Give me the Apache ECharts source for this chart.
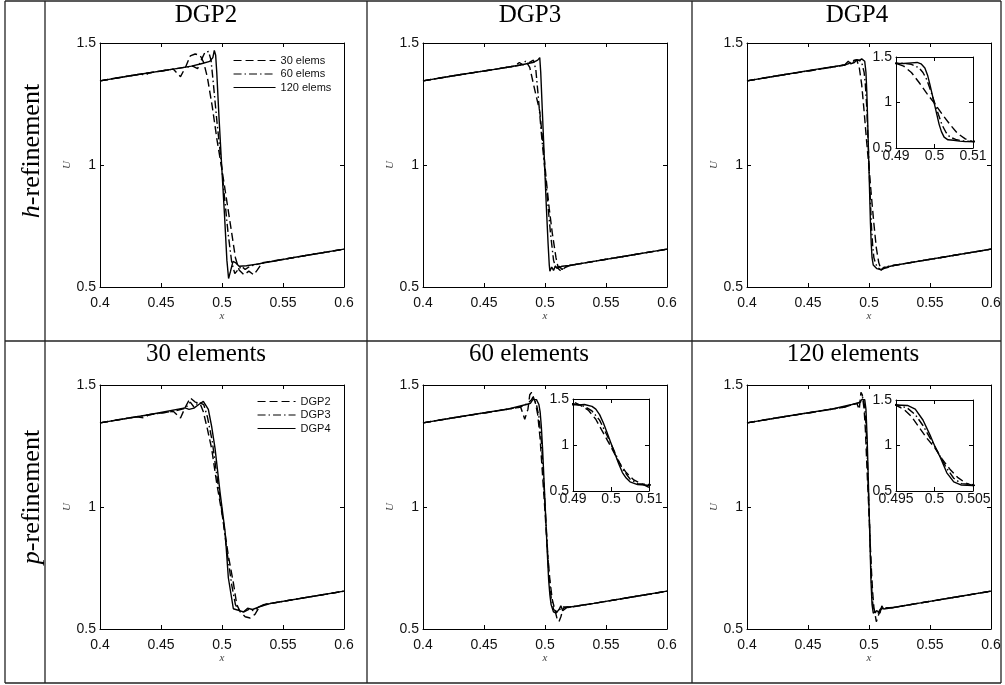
<!DOCTYPE html>
<html>
<head>
<meta charset="utf-8">
<script src="https://cdn.jsdelivr.net/npm/echarts@6/dist/echarts.min.js"></script>
<style>
  html, body { margin: 0; padding: 0; background: #fff; }
  #chart { width: 1005px; height: 685px; }
</style>
</head>
<body>
<div id="chart"></div>
<script>
// tick values
const xTicksMain = [0.4, 0.45, 0.5, 0.55, 0.6]
const yTicks = [0.5, 1, 1.5]
const xTicksInsetA = [0.49, 0.5, 0.51]
const xTicksInsetB = [0.495, 0.5, 0.505]

// texts
const colTitles = ['DGP2', 'DGP3', 'DGP4']
const elemTitles = ['30 elements', '60 elements', '120 elements']
const hLegend = ['30 elems', '60 elems', '120 elems']
const pLegend = ['DGP2', 'DGP3', 'DGP4']

// h-refinement, DGP2 : [x, U]
const h2e30 = [[0.40,1.345],[0.42,1.362],[0.434,1.373],[0.437,1.366],[0.44,1.377],[0.46,1.393],[0.466,1.362],[0.470,1.40],[0.474,1.447],[0.478,1.455],[0.482,1.45],[0.485,1.42],[0.488,1.36],[0.492,1.24],[0.496,1.10],[0.500,0.98],[0.504,0.85],[0.508,0.72],[0.511,0.62],[0.514,0.57],[0.518,0.55],[0.522,0.565],[0.526,0.55],[0.529,0.57],[0.533,0.60],[0.54,0.605],[0.57,0.63],[0.60,0.655]]
const h2e60 = [[0.40,1.345],[0.43,1.37],[0.46,1.393],[0.476,1.405],[0.480,1.395],[0.483,1.43],[0.486,1.462],[0.489,1.465],[0.491,1.43],[0.493,1.33],[0.496,1.17],[0.499,1.03],[0.502,0.87],[0.505,0.72],[0.508,0.60],[0.5105,0.555],[0.513,0.57],[0.516,0.585],[0.519,0.572],[0.523,0.585],[0.53,0.595],[0.56,0.622],[0.60,0.655]]
const h2e120 = [[0.40,1.345],[0.43,1.37],[0.46,1.393],[0.475,1.405],[0.483,1.415],[0.490,1.425],[0.4925,1.44],[0.4937,1.47],[0.4948,1.45],[0.4957,1.38],[0.4975,1.20],[0.4997,1.00],[0.502,0.80],[0.504,0.61],[0.5054,0.535],[0.507,0.565],[0.509,0.605],[0.511,0.60],[0.514,0.585],[0.52,0.587],[0.53,0.595],[0.56,0.622],[0.60,0.655]]

// h-refinement, DGP3
const h3e30 = [[0.40,1.345],[0.43,1.37],[0.46,1.393],[0.475,1.405],[0.479,1.42],[0.482,1.41],[0.485,1.42],[0.4875,1.40],[0.4915,1.31],[0.4957,1.22],[0.4985,1.08],[0.501,0.94],[0.5035,0.82],[0.506,0.72],[0.509,0.62],[0.511,0.575],[0.513,0.565],[0.516,0.578],[0.52,0.588],[0.54,0.605],[0.57,0.63],[0.60,0.655]]
const h3e60 = [[0.40,1.345],[0.43,1.37],[0.46,1.393],[0.48,1.41],[0.484,1.425],[0.487,1.42],[0.4905,1.43],[0.4925,1.39],[0.4945,1.28],[0.497,1.13],[0.4995,1.0],[0.502,0.86],[0.5045,0.72],[0.507,0.61],[0.509,0.575],[0.5115,0.585],[0.514,0.572],[0.517,0.585],[0.52,0.588],[0.54,0.605],[0.57,0.63],[0.60,0.655]]
const h3e120 = [[0.40,1.345],[0.43,1.37],[0.46,1.393],[0.48,1.41],[0.49,1.42],[0.494,1.43],[0.4957,1.44],[0.4965,1.38],[0.498,1.20],[0.4995,1.02],[0.501,0.84],[0.5025,0.68],[0.5035,0.59],[0.504,0.565],[0.5055,0.582],[0.507,0.568],[0.5085,0.586],[0.51,0.576],[0.514,0.585],[0.52,0.588],[0.54,0.605],[0.57,0.63],[0.60,0.655]]

// h-refinement, DGP4
const h4e30 = [[0.40,1.345],[0.43,1.37],[0.46,1.393],[0.48,1.41],[0.485,1.418],[0.488,1.428],[0.49,1.43],[0.492,1.40],[0.494,1.33],[0.496,1.22],[0.498,1.10],[0.5,0.99],[0.502,0.87],[0.504,0.76],[0.506,0.66],[0.508,0.60],[0.51,0.57],[0.512,0.575],[0.515,0.58],[0.52,0.588],[0.54,0.605],[0.57,0.63],[0.60,0.655]]
const h4e60 = [[0.40,1.345],[0.43,1.37],[0.46,1.393],[0.48,1.41],[0.485,1.42],[0.488,1.43],[0.49,1.432],[0.492,1.43],[0.494,1.42],[0.496,1.38],[0.497,1.33],[0.498,1.25],[0.499,1.13],[0.5,1.0],[0.501,0.87],[0.502,0.75],[0.503,0.67],[0.504,0.62],[0.5055,0.595],[0.507,0.58],[0.51,0.57],[0.513,0.582],[0.52,0.588],[0.54,0.605],[0.57,0.63],[0.60,0.655]]
const h4e120 = [[0.40,1.345],[0.43,1.37],[0.46,1.395],[0.48,1.41],[0.483,1.425],[0.485,1.415],[0.488,1.42],[0.49,1.43],[0.492,1.428],[0.494,1.435],[0.4955,1.44],[0.4965,1.425],[0.4975,1.38],[0.4982,1.30],[0.4988,1.20],[0.4994,1.09],[0.5,0.98],[0.5006,0.87],[0.5012,0.76],[0.5018,0.68],[0.5025,0.62],[0.5035,0.59],[0.505,0.585],[0.5065,0.575],[0.508,0.57],[0.51,0.57],[0.512,0.58],[0.515,0.582],[0.52,0.588],[0.54,0.605],[0.57,0.63],[0.60,0.655]]

// p-refinement, 30 elements
const p30d2 = [[0.40,1.345],[0.43,1.37],[0.436,1.365],[0.44,1.378],[0.46,1.392],[0.466,1.365],[0.470,1.41],[0.474,1.447],[0.478,1.43],[0.482,1.425],[0.4847,1.39],[0.488,1.32],[0.4915,1.24],[0.4956,1.10],[0.5011,0.94],[0.5052,0.80],[0.5093,0.69],[0.5121,0.60],[0.515,0.57],[0.519,0.55],[0.523,0.545],[0.527,0.56],[0.530,0.585],[0.534,0.60],[0.54,0.605],[0.57,0.63],[0.60,0.655]]
const p30d3 = [[0.40,1.345],[0.44,1.378],[0.46,1.392],[0.47,1.405],[0.474,1.43],[0.477,1.41],[0.481,1.43],[0.485,1.42],[0.488,1.37],[0.492,1.27],[0.496,1.12],[0.5,0.98],[0.504,0.82],[0.508,0.68],[0.511,0.60],[0.514,0.575],[0.518,0.57],[0.522,0.58],[0.526,0.575],[0.530,0.59],[0.534,0.60],[0.54,0.605],[0.57,0.63],[0.60,0.655]]
const p30d4 = [[0.40,1.345],[0.44,1.378],[0.4697,1.406],[0.473,1.40],[0.477,1.405],[0.481,1.42],[0.4847,1.433],[0.4888,1.40],[0.4915,1.33],[0.4943,1.24],[0.4984,1.06],[0.5025,0.90],[0.5052,0.71],[0.5093,0.583],[0.5175,0.57],[0.521,0.585],[0.525,0.58],[0.53,0.59],[0.54,0.605],[0.57,0.63],[0.60,0.655]]

// p-refinement, 60 elements
const p60d2 = [[0.40,1.345],[0.43,1.37],[0.46,1.393],[0.48,1.41],[0.4834,1.36],[0.486,1.40],[0.4875,1.46],[0.489,1.47],[0.49,1.47],[0.492,1.43],[0.494,1.38],[0.496,1.28],[0.498,1.13],[0.5,0.98],[0.502,0.82],[0.504,0.70],[0.506,0.62],[0.508,0.58],[0.51,0.54],[0.5115,0.53],[0.513,0.55],[0.515,0.585],[0.518,0.59],[0.52,0.588],[0.54,0.605],[0.57,0.63],[0.60,0.655]]
const p60d3 = [[0.40,1.345],[0.43,1.37],[0.46,1.393],[0.48,1.41],[0.484,1.42],[0.487,1.43],[0.489,1.44],[0.49,1.45],[0.493,1.42],[0.495,1.37],[0.497,1.27],[0.499,1.10],[0.501,0.92],[0.503,0.74],[0.505,0.63],[0.507,0.58],[0.51,0.57],[0.512,0.58],[0.515,0.59],[0.52,0.59],[0.54,0.605],[0.57,0.63],[0.60,0.655]]
const p60d4 = [[0.40,1.345],[0.44,1.378],[0.47,1.402],[0.4847,1.42],[0.488,1.425],[0.49,1.44],[0.4915,1.435],[0.493,1.44],[0.495,1.42],[0.496,1.39],[0.497,1.33],[0.498,1.24],[0.499,1.13],[0.5,1.02],[0.501,0.91],[0.502,0.80],[0.503,0.70],[0.504,0.64],[0.505,0.60],[0.507,0.57],[0.509,0.565],[0.51,0.56],[0.5115,0.58],[0.513,0.595],[0.5145,0.575],[0.518,0.588],[0.54,0.605],[0.57,0.63],[0.60,0.655]]

// p-refinement, 120 elements
const p120d2 = [[0.40,1.345],[0.43,1.37],[0.46,1.393],[0.48,1.41],[0.49,1.425],[0.492,1.40],[0.4934,1.47],[0.4945,1.46],[0.495,1.44],[0.496,1.40],[0.497,1.32],[0.498,1.20],[0.499,1.08],[0.5,0.98],[0.501,0.85],[0.502,0.74],[0.503,0.65],[0.504,0.59],[0.505,0.56],[0.506,0.53],[0.5066,0.53],[0.508,0.56],[0.51,0.585],[0.52,0.588],[0.54,0.605],[0.57,0.63],[0.60,0.655]]
const p120d3 = [[0.40,1.345],[0.43,1.37],[0.46,1.393],[0.48,1.41],[0.49,1.425],[0.493,1.43],[0.495,1.45],[0.4965,1.41],[0.4975,1.34],[0.4985,1.22],[0.4995,1.07],[0.5005,0.92],[0.5015,0.76],[0.5025,0.64],[0.5035,0.58],[0.505,0.57],[0.507,0.56],[0.509,0.58],[0.512,0.585],[0.52,0.588],[0.54,0.605],[0.57,0.63],[0.60,0.655]]
const p120d4 = [[0.40,1.345],[0.44,1.378],[0.47,1.402],[0.486,1.42],[0.49,1.425],[0.4925,1.43],[0.494,1.44],[0.495,1.445],[0.4965,1.44],[0.4975,1.40],[0.4985,1.28],[0.4995,1.10],[0.5,1.0],[0.5008,0.86],[0.5016,0.70],[0.5025,0.60],[0.5035,0.565],[0.505,0.56],[0.5065,0.575],[0.508,0.58],[0.509,0.565],[0.5105,0.595],[0.512,0.582],[0.52,0.588],[0.54,0.605],[0.57,0.63],[0.60,0.655]]

const panels = [
  { sets: [h2e30, h2e60, h2e120], names: hLegend },
  { sets: [h3e30, h3e60, h3e120] },
  { sets: [h4e30, h4e60, h4e120] },
  { sets: [p30d2, p30d3, p30d4], names: pLegend },
  { sets: [p60d2, p60d3, p60d4] },
  { sets: [p120d2, p120d3, p120d4] }
]
// inset grids reuse the data of their host panel
const insets = [
  { host: 2, ticks: xTicksInsetA },
  { host: 4, ticks: xTicksInsetA },
  { host: 5, ticks: xTicksInsetB }
]

const boxes = [[100, 43], [423, 43], [747, 43], [100, 385], [423, 385], [747, 385]]
const insetBoxes = [[896, 57, 77, 91], [573, 399, 76, 92], [896, 400, 77, 91]]

const sans = 'Liberation Sans'
const serif = 'Liberation Serif'
const dashTypes = [[8, 4], [8, 3, 1.5, 3], 'solid']
const tickFmt = v => String(+v.toFixed(4))
const nameStyle = { fontFamily: serif, fontStyle: 'italic', fontSize: 11, color: '#444' }

const grids = []
const xAxes = []
const yAxes = []
const series = []

function addGrid(box, xt, main, z) {
  const g = grids.length
  grids.push({
    left: box[0], top: box[1], width: box[2] || 244, height: box[3] || 244,
    show: !main, backgroundColor: '#fff', borderWidth: 0, z
  })
  const common = {
    type: 'value', gridIndex: g, z: z + 1,
    splitLine: { show: false },
    axisLine: { onZero: false, lineStyle: { color: '#000', width: 1 } },
    axisTick: { inside: true, length: 4, lineStyle: { color: '#000' } }
  }
  const xr = { min: xt[0], max: xt[xt.length - 1], interval: +(xt[1] - xt[0]).toFixed(6) }
  const yr = { min: yTicks[0], max: yTicks[yTicks.length - 1], interval: yTicks[1] - yTicks[0] }
  xAxes.push({
    ...common, ...xr, position: 'bottom',
    axisLabel: { fontFamily: sans, fontSize: 14, color: '#111', margin: main ? 9 : 1, formatter: tickFmt },
    name: main ? 'x' : '', nameLocation: 'middle', nameGap: 19, nameTextStyle: nameStyle
  })
  xAxes.push({ ...common, ...xr, position: 'top', axisLabel: { show: false } })
  yAxes.push({
    ...common, ...yr, position: 'left',
    axisLabel: { fontFamily: sans, fontSize: 14, color: '#111', margin: 4, formatter: tickFmt },
    name: main ? 'U' : '', nameLocation: 'middle', nameGap: 26, nameTextStyle: nameStyle
  })
  yAxes.push({ ...common, ...yr, position: 'right', axisLabel: { show: false } })
  return g
}

function addCurves(g, sets, names, z) {
  sets.forEach((data, i) => {
    series.push({
      type: 'line', name: names ? names[i] : 'g' + g + '_' + i, data,
      xAxisIndex: 2 * g, yAxisIndex: 2 * g, color: '#000',
      symbol: 'none', showSymbol: false, clip: true, silent: true, z,
      lineStyle: { color: '#000', width: 1.4, type: dashTypes[i] }
    })
  })
}

panels.forEach((p, i) => {
  const g = addGrid(boxes[i], xTicksMain, true, 0)
  addCurves(g, p.sets, p.names, 2)
})
insets.forEach((ins, i) => {
  const g = addGrid(insetBoxes[i], ins.ticks, false, 5)
  addCurves(g, panels[ins.host].sets, null, 7)
})

// table rules
const ruleStyle = { stroke: '#222', lineWidth: 1.3 }
const hRules = [1, 341, 683]
const vRules = [5, 45, 367, 692, 1001]
const graphics = []
hRules.forEach(y => graphics.push({ type: 'line', shape: { x1: 5, y1: y, x2: 1001, y2: y }, style: ruleStyle }))
vRules.forEach(x => graphics.push({ type: 'line', shape: { x1: x, y1: 1, x2: x, y2: 683 }, style: ruleStyle }))

const titlePos = [[206, 15], [530, 15], [857, 15], [206, 354], [529, 354], [853, 354]]
colTitles.concat(elemTitles).forEach((t, i) => {
  graphics.push({
    type: 'text', x: titlePos[i][0], y: titlePos[i][1],
    style: { text: t, fontFamily: serif, fontSize: 25, fill: '#000', align: 'center', verticalAlign: 'middle' }
  })
})
const rowLabels = [['h', 151], ['p', 497]]
rowLabels.forEach(([v, y]) => {
  graphics.push({
    type: 'text', x: 32, y, rotation: Math.PI / 2,
    style: {
      text: '{i|' + v + '}-refinement', fontFamily: serif, fontSize: 26, fill: '#000',
      align: 'center', verticalAlign: 'middle',
      rich: { i: { fontFamily: serif, fontSize: 26, fontStyle: 'italic', fill: '#000' } }
    }
  })
})

const legendBase = {
  orient: 'vertical', itemHeight: 12, itemGap: 2.5, padding: 0, selectedMode: false,
  itemStyle: { opacity: 0 },
  lineStyle: { width: 1.1 },
  textStyle: { fontFamily: sans, fontSize: 11, color: '#111' }
}

const chart = echarts.init(document.getElementById('chart'))
chart.setOption({
  animation: false,
  backgroundColor: '#fff',
  grid: grids,
  xAxis: xAxes,
  yAxis: yAxes,
  legend: [
    { ...legendBase, data: hLegend, left: 233, top: 55, itemWidth: 42 },
    { ...legendBase, data: pLegend, left: 257, top: 396, itemWidth: 38 }
  ],
  series,
  graphic: graphics
})
</script>
</body>
</html>
